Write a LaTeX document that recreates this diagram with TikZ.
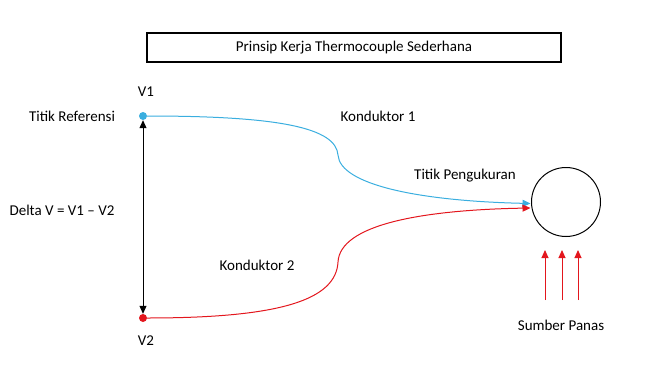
\documentclass[tikz,border=0pt]{standalone}
\usepackage{fontspec}
\setmainfont{Carlito}
\usetikzlibrary{arrows.meta}
\definecolor{kabel1}{HTML}{3AAEDF}
\definecolor{kabel2}{HTML}{E3161D}
\begin{document}
\begin{tikzpicture}[
  x=1pt, y=-1pt,
  label/.style={inner sep=1pt, font=\fontsize{15}{17}\selectfont},
  dot/.style={circle, fill, inner sep=0pt, minimum size=8pt},
  heat/.style={-{Triangle[length=8pt,width=7pt]}, kabel2, line width=1pt}
]
\useasboundingbox (0,0) rectangle (670,367);

% Judul
\node[draw, line width=1.2pt, minimum width=414pt, minimum height=29pt, label] (judul) at (354,47.5) {Prinsip Kerja Thermocouple Sederhana};

% Titik referensi
\node[dot, kabel1] (p1) at (143,116) {};
\node[dot, kabel2] (p2) at (143,318) {};
\node[label] (vsatu) at (146,92) {V1};
\node[label] (vdua) at (146,341) {V2};
\node[label] (ref) at (72,116) {Titik Referensi};
\node[label] (delta) at (62,210) {Delta V = V1 – V2};

% Titik pengukuran
\node[circle, draw, line width=1pt, minimum size=69pt, inner sep=0pt] (hot) at (566,202) {};
\node[label] (ukur) at (465,176) {Titik Pengukuran};
\node[label] (kond1) at (378,116) {Konduktor 1};
\node[label] (kond2) at (257,265) {Konduktor 2};
\coordinate (in1) at (530.5,203.5);
\coordinate (in2) at (530.5,208);

% Konduktor
\draw[kabel1, line width=1pt, -{Triangle[length=8pt,width=7pt]}] (p1) .. controls (280,116) and (336,128) .. (338,155)
  .. controls (340,185) and (420,201) .. (in1);
\draw[kabel2, line width=1pt, -{Triangle[length=8pt,width=7pt]}] (p2) .. controls (280,318) and (336,300) .. (338,262)
  .. controls (340,225) and (420,210) .. (in2);

% Beda tegangan
\draw[line width=1pt, {Triangle[length=8pt,width=7pt]}-{Triangle[length=8pt,width=7pt]}] (p1) -- (p2);

% Sumber panas
\node[label] (sumber) at (561,325) {Sumber Panas};
\foreach \xx in {545,562,578}
  \draw[heat] (\xx,300) -- (\xx,250);
\end{tikzpicture}
\end{document}
